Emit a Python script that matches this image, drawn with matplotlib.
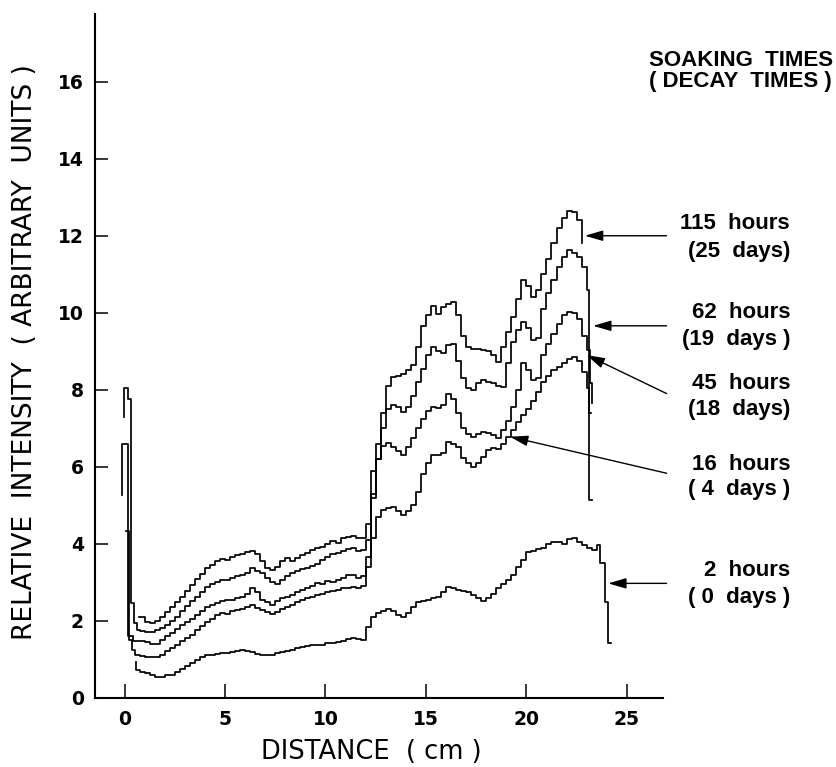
import numpy as np
import matplotlib
matplotlib.use("Agg")
import matplotlib.pyplot as plt

# Densitometer traces: relative intensity vs distance along the sample.
# Each trace is sampled every STEP cm starting at START, plus a short
# lead-in (entry spike) and tail (exit edge) with their own positions.
START = 0.75
STEP = 0.25

h115_head_x = [0.74]
h115_head_y = [2.09]
h115 = [2.09, 1.97, 1.95, 2.00, 2.10, 2.22, 2.35, 2.48, 2.62, 2.78,
        2.92, 3.08, 3.22, 3.36, 3.45, 3.55, 3.60, 3.58, 3.66, 3.70,
        3.72, 3.78, 3.80, 3.74, 3.55, 3.38, 3.32, 3.40, 3.55, 3.62,
        3.55, 3.64, 3.70, 3.75, 3.84, 3.90, 3.92, 4.00, 4.08, 4.02,
        4.15, 4.17, 4.20, 4.16, 4.15, 4.50, 5.90, 6.60, 7.40, 8.10,
        8.34, 8.36, 8.42, 8.50, 8.65, 9.10, 9.65, 9.95, 10.17, 9.98,
        10.15, 10.22, 10.29, 9.95, 9.40, 9.10, 9.05, 9.05, 9.03, 9.00,
        8.90, 8.73, 9.10, 9.50, 9.90, 10.35, 10.85, 10.70, 10.42, 10.60,
        11.00, 11.40, 11.80, 12.20, 12.45, 12.65, 12.62, 12.40]
h115_tail_x = [22.75]
h115_tail_y = [11.80]

h62_head_x = [-0.02, -0.01, 0.15, 0.30, 0.45, 0.60]
h62_head_y = [7.30, 8.05, 7.75, 2.45, 1.93, 1.76]
h62 = [1.72, 1.71, 1.70, 1.76, 1.80, 1.90, 2.00, 2.10, 2.25, 2.38,
       2.50, 2.62, 2.75, 2.88, 2.95, 3.00, 3.06, 3.05, 3.12, 3.17,
       3.20, 3.25, 3.36, 3.30, 3.25, 3.10, 3.00, 2.95, 3.05, 3.15,
       3.23, 3.28, 3.35, 3.38, 3.43, 3.48, 3.58, 3.65, 3.72, 3.76,
       3.80, 3.86, 3.88, 3.82, 3.84, 4.10, 5.30, 6.20, 7.00, 7.50,
       7.60, 7.56, 7.43, 7.55, 7.85, 8.20, 8.55, 8.90, 9.12, 9.00,
       8.95, 9.15, 9.20, 8.75, 8.30, 8.04, 8.00, 8.18, 8.25, 8.20,
       8.18, 8.10, 8.06, 8.69, 9.25, 9.55, 9.77, 9.60, 9.29, 9.35,
       10.10, 10.50, 10.85, 11.20, 11.45, 11.63, 11.56, 11.45, 11.20, 10.60]
h62_tail_x = [23.10, 23.12, 23.25]
h62_tail_y = [9.90, 5.13, 5.13]

h45_head_x = [-0.14, -0.13, 0.19, 0.44]
h45_head_y = [5.26, 6.60, 1.59, 1.46]
h45 = [1.46, 1.44, 1.39, 1.40, 1.50, 1.59, 1.68, 1.78, 1.88, 1.96,
       2.05, 2.15, 2.25, 2.36, 2.40, 2.46, 2.50, 2.54, 2.55, 2.60,
       2.62, 2.70, 2.84, 2.75, 2.55, 2.48, 2.41, 2.50, 2.58, 2.62,
       2.68, 2.75, 2.80, 2.85, 2.90, 2.97, 2.95, 3.02, 3.00, 3.06,
       3.10, 3.18, 3.19, 3.12, 3.15, 3.66, 5.20, 6.20, 6.55, 6.61,
       6.52, 6.40, 6.30, 6.50, 6.75, 7.00, 7.25, 7.45, 7.56, 7.52,
       7.60, 7.90, 7.75, 7.40, 7.00, 6.85, 6.78, 6.85, 6.90, 6.88,
       6.82, 6.74, 6.95, 7.20, 7.55, 8.00, 8.69, 8.50, 8.25, 8.30,
       8.90, 9.20, 9.45, 9.70, 9.95, 10.03, 10.00, 9.85, 9.40, 9.03]
h45_tail_x = [23.15, 23.29]
h45_tail_y = [8.17, 7.65]

h16_head_x = [0.07, 0.22, 0.36, 0.50]
h16_head_y = [4.34, 1.50, 1.24, 1.11]
h16 = [1.08, 1.06, 1.05, 1.05, 1.12, 1.22, 1.30, 1.38, 1.48, 1.56,
       1.64, 1.75, 1.86, 1.97, 2.05, 2.14, 2.19, 2.18, 2.24, 2.28,
       2.30, 2.36, 2.41, 2.32, 2.28, 2.23, 2.18, 2.23, 2.30, 2.36,
       2.42, 2.48, 2.54, 2.58, 2.62, 2.66, 2.70, 2.74, 2.78, 2.80,
       2.84, 2.86, 2.88, 2.86, 2.90, 3.40, 4.15, 4.70, 4.88, 4.92,
       4.96, 4.85, 4.75, 4.85, 5.00, 5.35, 5.80, 6.10, 6.30, 6.30,
       6.35, 6.65, 6.60, 6.50, 6.22, 6.10, 6.00, 6.10, 6.25, 6.43,
       6.48, 6.45, 6.60, 6.78, 6.95, 7.15, 7.35, 7.50, 7.70, 7.95,
       8.21, 8.35, 8.50, 8.60, 8.70, 8.80, 8.84, 8.75, 8.45, 8.05]
h16_tail_x = [23.10, 23.20]
h16_tail_y = [7.39, 7.39]

h2_head_x = [0.56, 0.57]
h2_head_y = [0.94, 0.72]
h2 = [0.68, 0.63, 0.60, 0.55, 0.53, 0.58, 0.60, 0.68, 0.75, 0.83,
      0.90, 0.98, 1.05, 1.10, 1.12, 1.13, 1.15, 1.16, 1.18, 1.22,
      1.24, 1.22, 1.18, 1.14, 1.11, 1.12, 1.10, 1.15, 1.18, 1.22,
      1.25, 1.28, 1.32, 1.33, 1.36, 1.38, 1.36, 1.41, 1.42, 1.45,
      1.48, 1.52, 1.54, 1.52, 1.50, 1.84, 2.10, 2.20, 2.25, 2.30,
      2.25, 2.15, 2.09, 2.20, 2.35, 2.49, 2.52, 2.55, 2.58, 2.62,
      2.75, 2.87, 2.84, 2.80, 2.78, 2.75, 2.68, 2.60, 2.51, 2.58,
      2.70, 2.84, 2.95, 3.06, 3.20, 3.40, 3.58, 3.79, 3.82, 3.85,
      3.90, 3.98, 4.05, 4.05, 4.00, 4.12, 4.14, 4.05, 3.97, 3.90,
      3.84, 3.97]
h2_tail_x = [23.66, 23.90, 24.07, 24.20]
h2_tail_y = [3.49, 2.49, 1.41, 1.41]

x_ticks = [0, 5, 10, 15, 20, 25]
x_ticklabels = ["0", "5", "10", "15", "20", "25"]
y_ticks = [0, 2, 4, 6, 8, 10, 12, 14, 16]
y_ticklabels = ["0", "2", "4", "6", "8", "10", "12", "14", "16"]

traces = [
    (h115_head_x, h115_head_y, h115, h115_tail_x, h115_tail_y),
    (h62_head_x, h62_head_y, h62, h62_tail_x, h62_tail_y),
    (h45_head_x, h45_head_y, h45, h45_tail_x, h45_tail_y),
    (h16_head_x, h16_head_y, h16, h16_tail_x, h16_tail_y),
    (h2_head_x, h2_head_y, h2, h2_tail_x, h2_tail_y),
]

# label text, arrow tip (data), arrow tail (data), text centre rows (px)
labels = [
    ("115  hours", "(25  days)", (22.91, 12.00), (26.98, 12.00), 224, 252),
    ("62  hours", "(19  days )", (23.32, 9.66), (26.98, 9.66), 312, 339),
    ("45  hours", "(18  days)", (23.00, 8.90), (26.98, 7.90), 383, 409),
    ("16  hours", "( 4  days )", (19.18, 6.78), (26.98, 5.83), 465, 490),
    ("2  hours", "( 0  days )", (24.07, 2.97), (26.98, 2.97), 570, 597),
]

W, H = 836, 767
fig = plt.figure(figsize=(W / 100, H / 100), dpi=100)
fig.patch.set_facecolor("white")

ax_l, ax_r, ax_b, ax_t = 95, 663, 697.7, 14
ax = fig.add_axes([ax_l / W, 1 - ax_b / H, (ax_r - ax_l) / W, (ax_b - ax_t) / H])

for hx, hy, vals, tx, ty in traces:
    grid = START + STEP * np.arange(len(vals))
    xs = np.concatenate([hx, grid, tx])
    ys = np.concatenate([hy, vals, ty])
    ax.plot(xs, ys, drawstyle="steps-post", color="black", lw=1.25)

ax.set_xlim(-1.47, 26.8)
ax.set_ylim(0, 17.76)
for s in ("top", "right"):
    ax.spines[s].set_visible(False)
for s in ("left", "bottom"):
    ax.spines[s].set_linewidth(1.5)

tick_font = dict(family="DejaVu Sans", weight="bold", size=13.5)
ax.set_xticks(x_ticks)
ax.set_xticklabels(x_ticklabels, **tick_font)
ax.set_yticks(y_ticks)
ax.set_yticklabels(y_ticklabels, **tick_font)
ax.tick_params(axis="y", direction="in", length=9, width=1.1, pad=8)
ax.tick_params(axis="x", direction="in", length=10, width=1.1, pad=9)

fig.text(25 / W, 1 - 352 / H, "RELATIVE  INTENSITY  ( ARBITRARY  UNITS )",
         rotation=90, ha="center", va="center",
         family="DejaVu Sans", weight="medium", size=19)
fig.text(371 / W, 1 - 752 / H, "DISTANCE  ( cm )", ha="center", va="center",
         family="DejaVu Sans", weight="medium", size=18.5)

lab_font = dict(family="Liberation Sans", weight="bold", size=16)
fig.text(833 / W, 1 - 61 / H, "SOAKING  TIMES", ha="right", va="center", **lab_font)
fig.text(832 / W, 1 - 82 / H, "( DECAY  TIMES )", ha="right", va="center", **lab_font)

for l1, l2, tip, tail, y1, y2 in labels:
    fig.text(790 / W, 1 - y1 / H, l1, ha="right", va="center", **lab_font)
    fig.text(790 / W, 1 - y2 / H, l2, ha="right", va="center", **lab_font)
    ax.annotate("", xy=tip, xytext=tail, xycoords="data", textcoords="data",
                annotation_clip=False,
                arrowprops=dict(arrowstyle="-|>,head_length=1.1,head_width=0.32",
                                color="black", lw=1.0, shrinkA=0, shrinkB=0))

fig.savefig("out.png", dpi=100, facecolor="white")
